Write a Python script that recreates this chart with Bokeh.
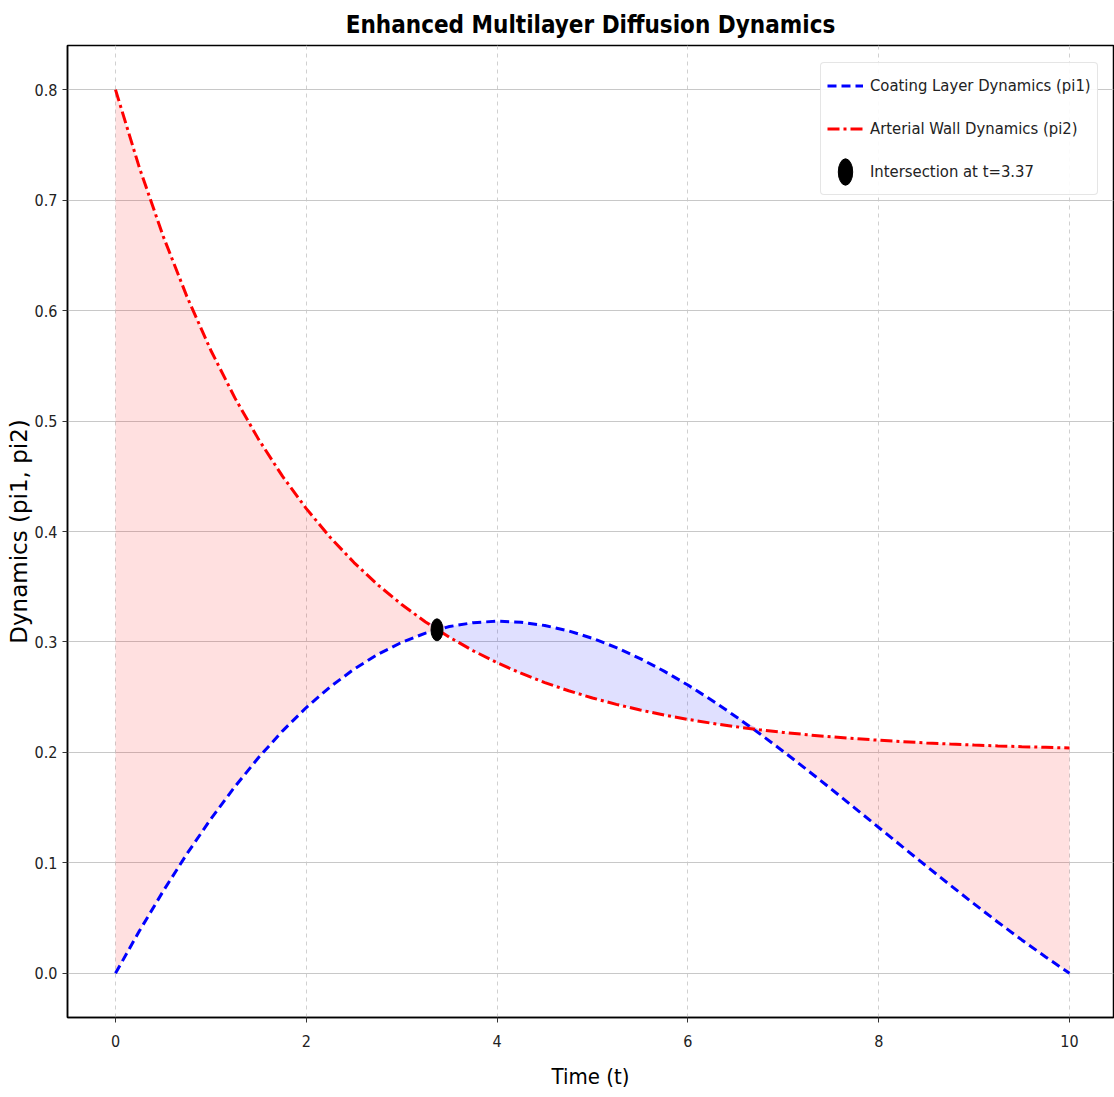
import numpy as np
from bokeh.plotting import figure
from bokeh.models import FixedTicker, PrintfTickFormatter, Legend, LegendItem, Range1d
from bokeh.embed import file_html
from bokeh.resources import INLINE

# ---- data ----
time_t = list(np.arange(41) * 0.25)
pi1_coating = [0.0, 0.03826, 0.07440, 0.10829, 0.13981, 0.16886, 0.19538, 0.21931,
               0.24062, 0.25930, 0.27535, 0.28879, 0.29967, 0.30803, 0.31394, 0.31749,
               0.31876, 0.31785, 0.31489, 0.30998, 0.30327, 0.29487, 0.28492, 0.27358,
               0.26098, 0.24726, 0.23257, 0.21706, 0.20087, 0.18414, 0.16701, 0.14960,
               0.13205, 0.11449, 0.09702, 0.07976, 0.06282, 0.04628, 0.03025, 0.01480, 0.0]
pi2_arterial = [0.800, 0.7295, 0.6673, 0.6124, 0.5639, 0.5212, 0.4834, 0.4501,
                0.4207, 0.3948, 0.3719, 0.3517, 0.3339, 0.3181, 0.3043, 0.2920,
                0.2812, 0.2717, 0.2632, 0.2558, 0.2493, 0.2435, 0.2384, 0.2338,
                0.2299, 0.2264, 0.2233, 0.2205, 0.2181, 0.2160, 0.2141, 0.2125,
                0.2110, 0.2097, 0.2086, 0.2076, 0.2067, 0.2059, 0.2052, 0.2046, 0.2040]
intersection_t = [3.37]
intersection_y = [0.311]
x_ticks = [0, 2, 4, 6, 8, 10]
y_ticks = [0.0, 0.1, 0.2, 0.3, 0.4, 0.5, 0.6, 0.7, 0.8]

FONT = "DejaVu Sans Condensed, DejaVu Sans"

p = figure(width=1114, height=1097, output_backend="svg", toolbar_location=None,
           x_range=Range1d(-0.503, 10.461), y_range=Range1d(-0.04, 0.84),
           min_border_left=67, min_border_right=1, min_border_top=45, min_border_bottom=80)

p.title.text = "Enhanced Multilayer Diffusion Dynamics"
p.title.align = "center"
p.title.text_font = FONT
p.title.text_font_size = "24px"
p.title.text_font_style = "bold"
p.title.text_color = "black"
p.title.offset = 0
p.title.standoff = 14

p.outline_line_color = "black"
p.outline_line_width = 1.5
p.background_fill_color = "white"
p.border_fill_color = "white"

# fills between curves
a1 = np.array(pi1_coating)
a2 = np.array(pi2_arterial)
upper = np.maximum(a1, a2)
p.varea(x=time_t, y1=a1, y2=upper, fill_color="red", fill_alpha=0.12)
p.varea(x=time_t, y1=a2, y2=upper, fill_color="blue", fill_alpha=0.12)

l1 = p.line(time_t, pi1_coating, line_color="blue", line_width=3, line_dash="9 5")
l2 = p.line(time_t, pi2_arterial, line_color="red", line_width=3, line_dash="12 4 3 4")
pt = p.ellipse(x=intersection_t, y=intersection_y, width=12, height=22,
               width_units="screen", height_units="screen",
               fill_color="black", line_color="black")

# axes
p.xaxis.ticker = FixedTicker(ticks=x_ticks)
p.yaxis.ticker = FixedTicker(ticks=y_ticks)
p.yaxis.formatter = PrintfTickFormatter(format="%.1f")
for ax in (p.xaxis[0], p.yaxis[0]):
    ax.axis_line_color = "black"
    ax.axis_line_width = 1.5
    ax.major_tick_line_color = "#333333"
    ax.major_tick_out = 5
    ax.major_tick_in = 0
    ax.minor_tick_line_color = None
    ax.major_label_text_font = FONT
    ax.major_label_text_font_size = "16px"
    ax.major_label_text_color = "#222222"
    ax.axis_label_text_font_style = "normal"
    ax.axis_label_text_color = "black"

p.xaxis.axis_label = "Time (t)"
p.xaxis.axis_label_text_font = FONT
p.xaxis.axis_label_text_font_size = "22px"
p.xaxis.major_label_standoff = 12
p.xaxis.axis_label_standoff = 14

p.yaxis.axis_label = "Dynamics (pi1, pi2)"
p.yaxis.axis_label_text_font = "DejaVu Sans"
p.yaxis.axis_label_text_font_size = "23px"
p.yaxis.major_label_standoff = 5
p.yaxis.axis_label_standoff = 0

# grid
p.ygrid.grid_line_color = "#c8c8c8"
p.ygrid.grid_line_width = 1
p.xgrid.grid_line_color = "#d0d0d0"
p.xgrid.grid_line_dash = "4 4"
p.xgrid.grid_line_width = 1

legend = Legend(items=[
    LegendItem(label="Coating Layer Dynamics (pi1)", renderers=[l1]),
    LegendItem(label="Arterial Wall Dynamics (pi2)", renderers=[l2]),
    LegendItem(label="Intersection at t=3.37", renderers=[pt]),
], location=(753, 822))
legend.margin = 0
legend.padding = 6
legend.spacing = 10
legend.label_height = 33
legend.glyph_height = 33
legend.glyph_width = 36
legend.label_standoff = 7
legend.label_text_font = FONT
legend.label_text_font_size = "16.5px"
legend.label_text_color = "#222222"
legend.border_line_color = "#cccccc"
legend.border_line_width = 1
legend.background_fill_alpha = 0.9
legend.border_radius = 4
p.add_layout(legend, "center")

open("out.html", "w").write(file_html(p, INLINE))
